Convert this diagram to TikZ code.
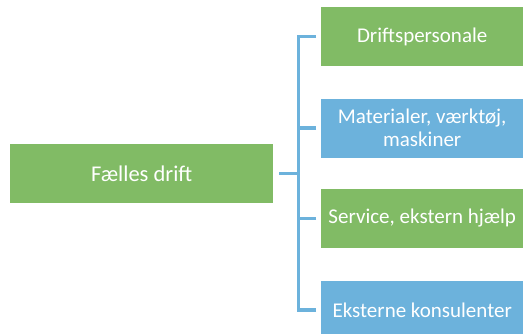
\documentclass[tikz,border=0pt]{standalone}
\usepackage{fontspec}
\setmainfont{Carlito}
\definecolor{boxgreen}{RGB}{129,187,101}
\definecolor{boxblue}{RGB}{108,178,220}
\begin{document}
\begin{tikzpicture}[x=1pt,y=-1pt,
  box/.style={draw=none,minimum height=59pt,inner sep=0pt,text=white,font=\fontsize{21}{23.5}\selectfont,align=center,anchor=west},
  gbox/.style={box,fill=boxgreen},
  bbox/.style={box,fill=boxblue},
  conn/.style={draw=boxblue,line width=3.5pt}]
\useasboundingbox[fill=white] (0,0) rectangle (523,333);
\node[gbox,minimum width=263pt,font=\fontsize{22.5}{25}\selectfont] (main) at (10,173.5) {Fælles drift};
\node[gbox,minimum width=202pt] (b1) at (321,36.5) {Driftspersonale};
\node[bbox,minimum width=202pt] (b2) at (321,128) {Materialer, værktøj,\\maskiner};
\node[gbox,minimum width=202pt] (b3) at (321,218.5) {Service, ekstern hjælp};
\node[bbox,minimum width=202pt] (b4) at (321,310) {Eksterne konsulenter};
\coordinate (sp) at (298.5,173.5);
\draw[conn] ([xshift=6pt]main.east) -- (sp);
\draw[conn] ([xshift=-5pt]b1.west) -| (sp);
\draw[conn] ([xshift=-5pt]b4.west) -| (sp);
\draw[conn] ([xshift=-5pt]b2.west) -- (b2.west -| sp);
\draw[conn] ([xshift=-5pt]b3.west) -- (b3.west -| sp);
\end{tikzpicture}
\end{document}
